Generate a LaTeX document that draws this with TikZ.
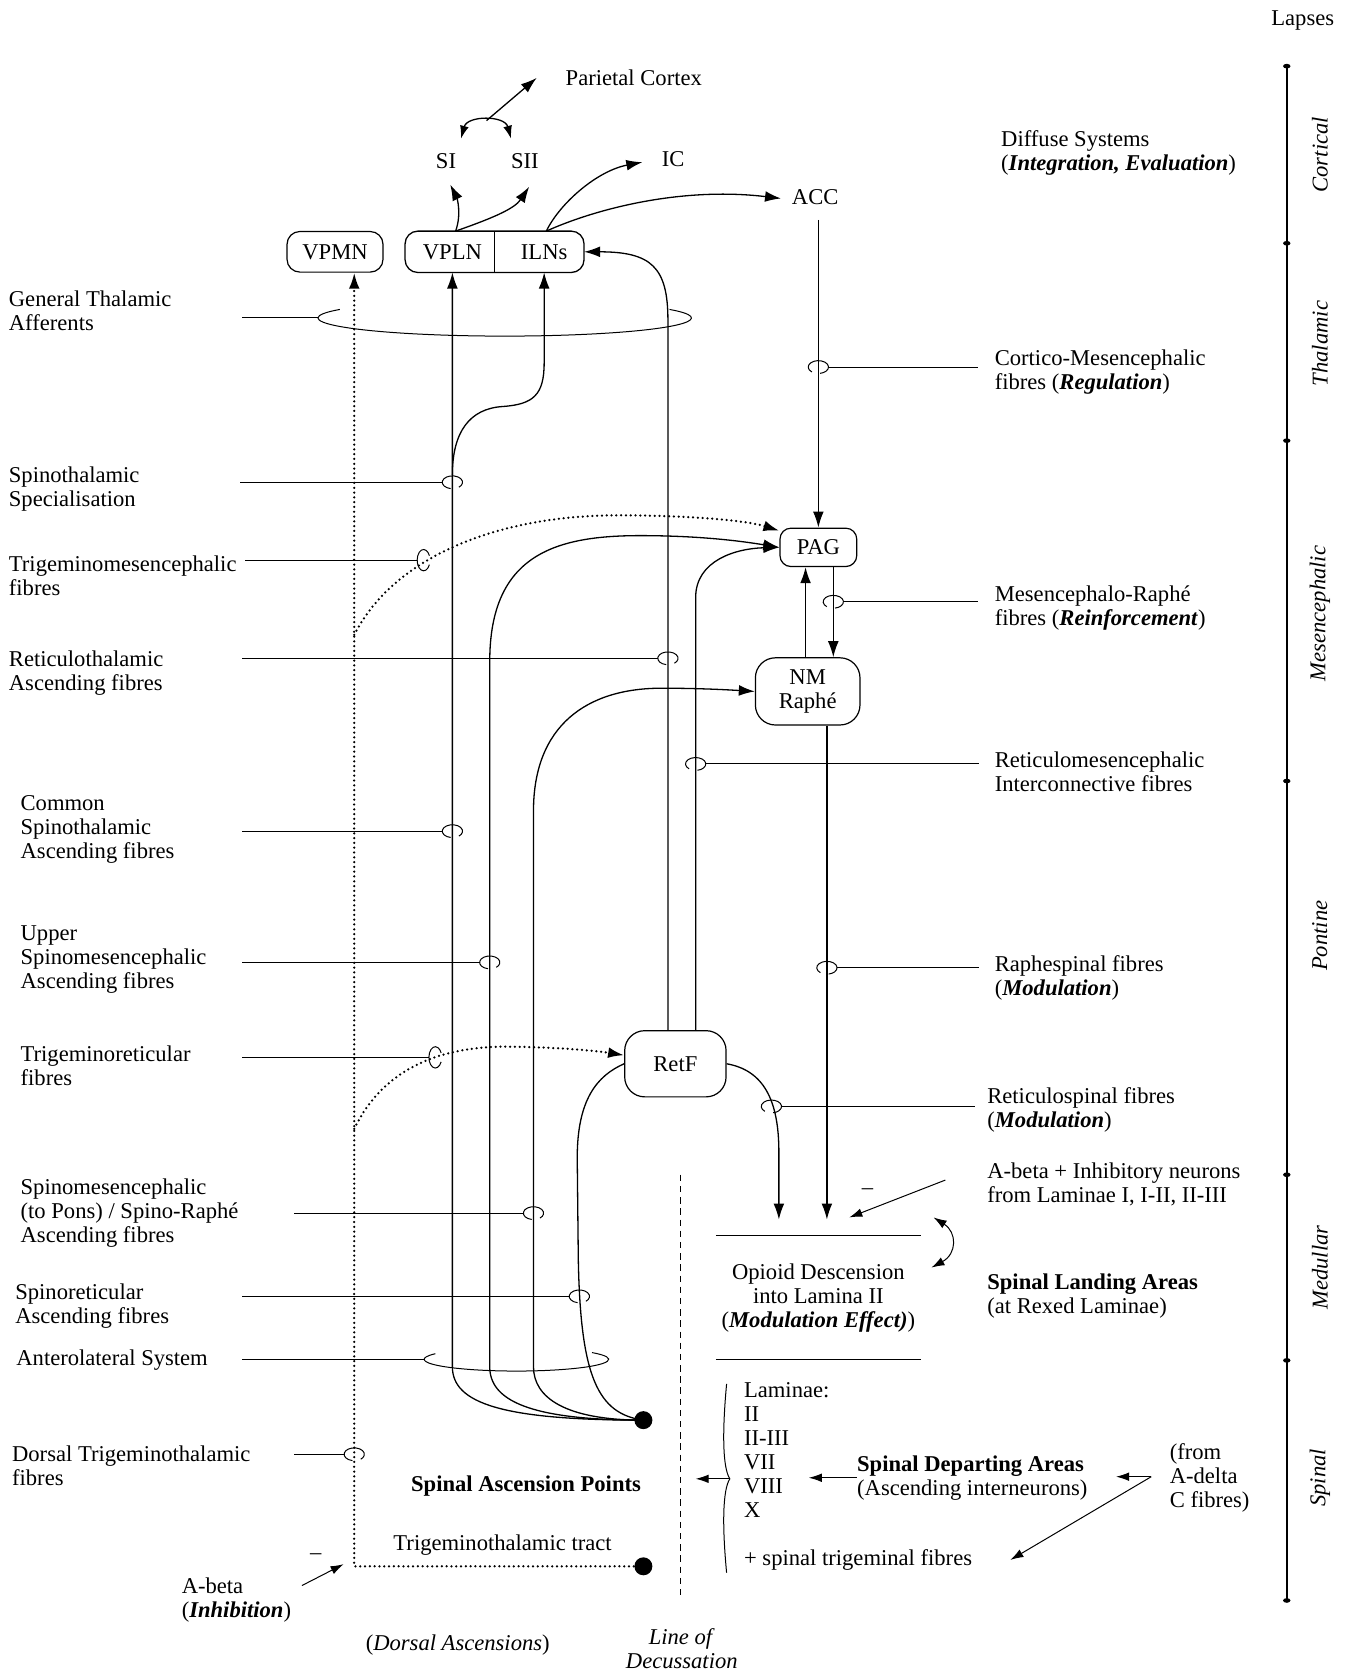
\documentclass[tikz,border=0pt]{standalone}
\usepackage{fontspec}
\setmainfont{Liberation Serif}
\usetikzlibrary{arrows.meta,calc}
\newcommand\bi[1]{\textbf{\textit{#1}}}
\tikzset{
  lensl/.pic={\draw[line width=0.5pt] (100:9.5 and 6) arc[start angle=100,end angle=410,x radius=9.5,y radius=6];},
  lensr/.pic={\draw[line width=0.5pt] (130:9.5 and 6) arc[start angle=130,end angle=440,x radius=9.5,y radius=6];},
  lensv/.pic={\draw[line width=0.5pt] (25:6 and 10) arc[start angle=25,end angle=335,x radius=6,y radius=10];},
}
\begin{document}
\begin{tikzpicture}[x=0.5336pt,y=-0.5336pt,
  every node/.style={font=\fontsize{11.3}{12}\selectfont},
  lbl/.style={align=left,anchor=west,inner sep=0pt},
  fib/.style={line width=0.65pt},
  lead/.style={line width=0.5pt},
  arr/.style={-{Latex[length=8pt,width=5.4pt]}},
  arrs/.style={-{Latex[length=6.5pt,width=4.3pt]}},
  dbl/.style={{Latex[length=6.5pt,width=4.4pt]}-{Latex[length=6.5pt,width=4.4pt]}},
  dots/.style={line width=1.25pt,line cap=round,dash pattern=on 0pt off 2.4pt},
  hub/.style={draw,line width=0.6pt,inner sep=0pt},
  side/.style={rotate=90,font=\fontsize{11.3}{12}\selectfont\itshape},
]
\useasboundingbox (0,0) rectangle (1266,1568);

% ---------- level axis ----------
\node (lap) at (1221,19) {Lapses};
\draw[line width=1pt] (1206,62) -- (1206,1500);
\foreach \yy in {62,228,413,732,1101,1275,1500}
  \fill (1206,\yy) circle[x radius=3.5,y radius=2.2];
\node[side] (lcor) at (1237,145) {Cortical};
\node[side] (ltha) at (1237,322) {Thalamic};
\node[side] (lmes) at (1237,575) {Mesencephalic};
\node[side] (lpon) at (1237,877) {Pontine};
\node[side] (lmed) at (1237,1188) {Medullar};
\node[side] (lspi) at (1237,1385) {Spinal};

% ---------- cortical targets ----------
\node (par) at (594,73) {Parietal Cortex};
\node (si) at (418,151) {SI};
\node (sii) at (492,151) {SII};
\node (ic) at (631,149) {IC};
\node (acc) at (764,185) {ACC};
\node[lbl] (dif) at (938,143.5) {Diffuse Systems\\(\bi{Integration, Evaluation})};

% ---------- thalamic nuclei ----------
\node[hub,rounded corners=6.4pt,minimum width=48pt,minimum height=20.3pt] (vpmn) at (314,236) {VPMN};
\node[inner sep=0pt,minimum width=41.6pt,minimum height=20.3pt] (vpln) at (424,236) {VPLN};
\node[inner sep=0pt,minimum width=39.5pt,minimum height=20.3pt] (ilns) at (510,236) {ILNs};
\draw[fib,rounded corners=6.4pt] ($(vpln.south west)+(-5,0)$) rectangle (ilns.north east);
\draw[fib] (vpln.north east) -- (vpln.south east);

% ---------- brainstem nuclei ----------
\node[hub,rounded corners=5.5pt,minimum width=38.4pt,minimum height=19.2pt] (pag) at (767,513) {PAG};
\node[hub,rounded corners=10pt,minimum width=52.3pt,minimum height=33.6pt,align=center] (nm) at (757,648) {NM\\Raphé};
\node[hub,rounded corners=10pt,minimum width=50.7pt,minimum height=33.1pt] (retf) at (633,997) {RetF};

% ---------- spinal entry points ----------
\node[circle,fill,inner sep=0pt,minimum size=9pt] (dotA) at (603,1331) {};
\node[circle,fill,inner sep=0pt,minimum size=9pt] (dotB) at (603,1468) {};

% ---------- free ends ----------
\coordinate (siT) at (422,173);
\coordinate (siiT) at (496,175);
\coordinate (icT) at (602,152);
\coordinate (accT) at (732,186);
\coordinate (accB) at (767,206);
\coordinate (parT) at (503,73);
\coordinate (arcTop) at (456,113);
\coordinate (brA) at (424,445);
\coordinate (tx) at (332,1468);
\coordinate (tmS) at (332,595);
\coordinate (trS) at (332,1058);
\coordinate (oa1) at (730,1143);
\coordinate (oa2) at (775,1143);

% ---------- cortical projections ----------
\draw[fib,dbl] (432,130) .. controls (438,108) and (473,108) .. (479,130);
\draw[fib,arr] (arcTop) -- (parT);
\draw[fib,arr] ($(vpln.north)+(3,0)$) .. controls (433,200) and (428,185) .. (siT);
\draw[fib,arr] ($(vpln.north)+(3,0)$) .. controls (460,205) and (482,196) .. (siiT);
\draw[fib,arr] ($(ilns.north)+(2,0)$) .. controls (525,190) and (560,160) .. (icT);
\draw[fib,arr] ($(ilns.north)+(2,0)$) .. controls (560,195) and (640,175) .. (accT);

% ---------- ascending fibres ----------
\draw[fib,arr] (dotA.center) .. controls (470,1331) and (424,1315) .. (424,1281) -- (vpln.south);
\draw[fib,arr] (brA) .. controls (424,405) and (440,383) .. (471,381) .. controls (500,379) and (510,370) .. (510,340) -- (ilns.south);
\draw[fib,arr] (dotA.center) .. controls (495,1331) and (459,1312) .. (459,1281) -- (459,620)
  .. controls (459,520) and (520,502) .. (600,502) .. controls (660,502) and (700,508) .. (pag.west);
\draw[fib,arr] (dotA.center) .. controls (530,1331) and (500,1310) .. (500,1281) -- (500,760)
  .. controls (500,680) and (550,645) .. (620,645) .. controls (660,645) and (690,647) .. (nm.west);
\draw[fib] (dotA.center) .. controls (560,1325) and (544,1290) .. (542,1180) -- (541,1085)
  .. controls (541,1030) and (560,1008) .. (retf.west);

% trigeminal (dotted) pathways
\draw[dots,arr] (dotB.center) -- (tx) -- (tx |- vpmn.south);
\draw[dots,arr] (tmS) .. controls (370,520) and (470,483) .. (578,483) .. controls (650,483) and (700,488) .. ($(pag.north west)+(0,3)$);
\draw[dots,arr] (trS) .. controls (355,1010) and (400,982) .. (470,981) .. controls (520,981) and (560,985) .. ($(retf.west)+(0,-8)$);

% reticular projections
\draw[fib,arr] ($(retf.north)+(-7,0)$) -- (626,300) .. controls (626,250) and (610,236) .. (ilns.east);
\draw[fib,arr] ($(retf.north)+(19,0)$) -- (652,560) .. controls (652,525) and (690,514) .. (pag.west);

% ---------- descending fibres ----------
\draw[fib,arr] (accB) -- (pag.north);
\draw[fib,arr] ($(pag.south)+(14,0)$) -- ($(nm.north)+(24,0)$);
\draw[fib,arr] ($(nm.north)+(-2,0)$) -- ($(pag.south)+(-12,0)$);
\draw[fib,arr] ($(nm.south)+(18,0)$) -- (oa2);
\draw[fib,arr] (retf.east) .. controls (715,1003) and (730,1030) .. (730,1080) -- (oa1);

% ---------- fibre bundles: left labels ----------
\node[lbl] (gta) at (8,291) {General Thalamic\\Afferents};
\node[lbl] (sts) at (8,458) {Spinothalamic\\Specialisation};
\node[lbl] (tmf) at (8,540) {Trigeminomesencephalic\\fibres};
\node[lbl] (rta) at (8,630.5) {Reticulothalamic\\Ascending fibres};
\node[lbl] (csa) at (19,777) {Common\\Spinothalamic\\Ascending fibres};
\node[lbl] (usa) at (19,899) {Upper\\Spinomesencephalic\\Ascending fibres};
\node[lbl] (trf) at (19,999) {Trigeminoreticular\\fibres};
\node[lbl] (sma) at (19,1137) {Spinomesencephalic\\(to Pons) / Spino-Raphé\\Ascending fibres};
\node[lbl] (sra) at (14,1224.5) {Spinoreticular\\Ascending fibres};
\node[lbl] (als) at (15,1275) {Anterolateral System};
\node[lbl] (dtf) at (11,1374) {Dorsal Trigeminothalamic\\fibres};
\node[lbl] (abl) at (170,1500) {A-beta\\(\bi{Inhibition})};

\draw[lead] (227,298) -- (298,298);
\draw[lead] (473,298) ++(-28:175 and 17) arc[start angle=-28,end angle=208,x radius=175,y radius=17];
\draw[lead] (225,452) -- (414.5,452); \pic at (424,452) {lensl};
\draw[lead] (230,525) -- (391,525); \pic at (397,525) {lensv};
\draw[lead] (227,617) -- (616.5,617); \pic at (626,617) {lensl};
\draw[lead] (227,779) -- (414.5,779); \pic at (424,779) {lensl};
\draw[lead] (227,902) -- (449.5,902); \pic at (459,902) {lensl};
\draw[lead] (227,991) -- (402,991); \pic at (408,991) {lensv};
\draw[lead] (276,1137) -- (490.5,1137); \pic at (500,1137) {lensl};
\draw[lead] (227,1215) -- (533.5,1215); \pic at (543,1215) {lensl};
\draw[lead] (227,1274) -- (397.5,1274);
\draw[lead] (484,1274) ++(-35:86.5 and 11) arc[start angle=-35,end angle=208.5,x radius=86.5,y radius=11];
\draw[lead] (276,1363) -- (322.5,1363); \pic at (332,1363) {lensl};

% ---------- fibre bundles: right labels ----------
\node[lbl] (cmf) at (932,348.5) {Cortico-Mesencephalic\\fibres (\bi{Regulation})};
\node[lbl] (mrf) at (932,569.5) {Mesencephalo-Raphé\\fibres (\bi{Reinforcement})};
\node[lbl] (rmf) at (932,723.5) {Reticulomesencephalic\\Interconnective fibres};
\node[lbl] (rsf) at (932,917) {Raphespinal fibres\\(\bi{Modulation})};
\node[lbl] (rtf) at (925,1040.5) {Reticulospinal fibres\\(\bi{Modulation})};

\pic at (767,344) {lensr}; \draw[lead] (776.5,344) -- (917,344);
\pic at (781,564) {lensr}; \draw[lead] (790.5,564) -- (917,564);
\pic at (652,716) {lensr}; \draw[lead] (661.5,716) -- (918,716);
\pic at (775,907) {lensr}; \draw[lead] (784.5,907) -- (918,907);
\pic at (723,1037) {lensr}; \draw[lead] (732.5,1037) -- (914,1037);

% ---------- spinal landing ----------
\node[lbl] (abi) at (925,1110) {A-beta + Inhibitory neurons\\from Laminae I, I-II, II-III};
\node (mn1) at (813,1117) {–};
\draw[lead,arrs] (886,1106) -- (796,1141);
\draw[fib] (671,1158) -- (863,1158);
\draw[fib] (671,1274) -- (863,1274);
\node[align=center] (opi) at (767,1217) {Opioid Descension\\into Lamina II\\(\bi{Modulation Effect)})};
\draw[lead,dbl] (875,1141) .. controls (897,1155) and (897,1175) .. (873,1188);
\node[lbl] (sla) at (925,1215) {\textbf{Spinal Landing Areas}\\(at Rexed Laminae)};

% ---------- spinal departure ----------
\draw[lead,dash pattern=on 3.2pt off 2.4pt] (638,1101) -- (638,1497);
\node[lbl] (lam) at (697,1383.5) {Laminae:\\II\\II-III\\VII\\VIII\\X\\[12pt]+ spinal trigeminal fibres};
\draw[lead] (681,1297) .. controls (677,1340) and (677,1375) .. (684,1386) .. controls (677,1397) and (677,1432) .. (681,1474);
\node[lbl] (sda) at (803,1385) {\textbf{Spinal Departing Areas}\\(Ascending interneurons)};
\node[lbl] (fad) at (1096,1385) {(from\\A-delta\\C fibres)};
\coordinate (brc) at (684,1386);
\coordinate (sapR) at (652,1386);
\coordinate (lamR) at (758,1385);
\coordinate (fadJ) at (1079,1384);
\draw[lead,arrs] (brc) -- (sapR);
\draw[lead,arrs] (sda.west) -- (lamR);
\draw[lead,arrs] (fadJ) -- (1046,1384);
\draw[lead,arrs] (fadJ) -- (947,1462);

\node (sap) at (493,1393) {\textbf{Spinal Ascension Points}};
\node (ttt) at (471,1448) {Trigeminothalamic tract};
\node (mn2) at (296,1459) {–};
\draw[lead,arrs] (283,1486) -- (322,1466);
\node (das) at (429,1542) {(\textit{Dorsal Ascensions})};
\node[align=center] (lod) at (639,1545) {\textit{Line of}\\\textit{Decussation}};
\end{tikzpicture}
\end{document}
